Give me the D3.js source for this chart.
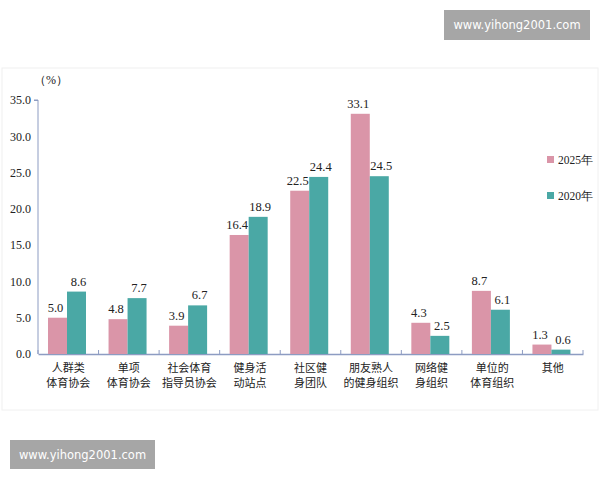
<!DOCTYPE html><html><head><meta charset="utf-8"><script src="https://cdn.jsdelivr.net/npm/d3@7"></script>
<style>body{margin:0;background:#fff}</style></head><body><svg id="c" width="600" height="480"></svg><script>
const categories=[["人群类","体育协会"],["单项","体育协会"],["社会体育","指导员协会"],["健身活","动站点"],["社区健","身团队"],["朋友熟人","的健身组织"],["网络健","身组织"],["单位的","体育组织"],["其他"]];
const s2025=[5.0,4.8,3.9,16.4,22.5,33.1,4.3,8.7,1.3];
const s2020=[8.6,7.7,6.7,18.9,24.4,24.5,2.5,6.1,0.6];
const yTicks=[0,5,10,15,20,25,30,35];
const series=[{name:"2025年",v:s2025,c:"#da95a8"},{name:"2020年",v:s2020,c:"#4aa8a5"}];
const svg=d3.select("#c");
svg.append("rect").attr("x",2).attr("y",68).attr("width",596).attr("height",342).attr("fill","#fff").attr("stroke","#f0f0f0");
const x=d3.scaleBand().domain(d3.range(9)).range([38,583]);
const y=d3.scaleLinear().domain([0,35]).range([354,100]);
const ax="#8d9cc2",serif="Liberation Serif, Times New Roman, serif",cjk="Noto Sans CJK SC";
const ya=svg.append("g").attr("transform","translate(38,0)").call(d3.axisLeft(y).tickValues(yTicks).tickFormat(d3.format(".1f")).tickSize(4));
ya.select(".domain").attr("stroke",ax).attr("d","M-4,100H0V354");
ya.selectAll(".tick line").attr("stroke",ax).filter(d=>d!==35).remove();
ya.selectAll("text").attr("font-family",serif).attr("font-size",12).attr("fill","#222").attr("x",-7);
const xa=svg.append("g").attr("transform","translate(0,354)").call(d3.axisBottom(x).tickFormat("").tickSize(0));
xa.select(".domain").attr("stroke",ax).attr("stroke-width",1.5);
d3.range(10).forEach(i=>{const xx=38+i*x.step();svg.append("line").attr("x1",xx).attr("x2",xx).attr("y1",350).attr("y2",354).attr("stroke",ax);});
const bw=19;
series.forEach((s,k)=>{
 const g=svg.append("g");
 g.selectAll("rect").data(s.v).join("rect").attr("x",(d,i)=>x(i)+10+k*bw).attr("width",bw).attr("y",d=>y(d)).attr("height",d=>354-y(d)).attr("fill",s.c);
 g.selectAll("text").data(s.v).join("text").attr("x",(d,i)=>x(i)+10+k*bw+bw/2+(k?2:-2)).attr("y",d=>y(d)-6).attr("text-anchor","middle").attr("font-family",serif).attr("font-size",12.5).attr("fill","#222").text(d=>d.toFixed(1));
});
categories.forEach((c,i)=>c.forEach((t,j)=>svg.append("text").attr("x",x(i)+x.bandwidth()/2).attr("y",372+j*15).attr("text-anchor","middle").attr("font-family",cjk).attr("font-size",11).attr("fill","#222").text(t)));
svg.append("text").attr("x",34).attr("y",84).attr("font-family",serif).attr("font-size",12).attr("fill","#222").text("（%）");
series.forEach((s,k)=>{svg.append("rect").attr("x",547).attr("y",156+k*36).attr("width",7).attr("height",7).attr("fill",s.c);
 svg.append("text").attr("x",558).attr("y",164+k*36).attr("font-family",serif).attr("font-size",11.5).attr("fill","#222").text(s.name);});
[[444,10,146,30],[10,440,145,29]].forEach(([a,b,w,h])=>{svg.append("rect").attr("x",a).attr("y",b).attr("width",w).attr("height",h).attr("fill","#a6a6a6");
 svg.append("text").attr("x",a+w/2).attr("y",b+h/2+4).attr("text-anchor","middle").attr("font-family","DejaVu Sans").attr("font-size",11.5).attr("fill","#fff").text("www.yihong2001.com");});
</script></body></html>
